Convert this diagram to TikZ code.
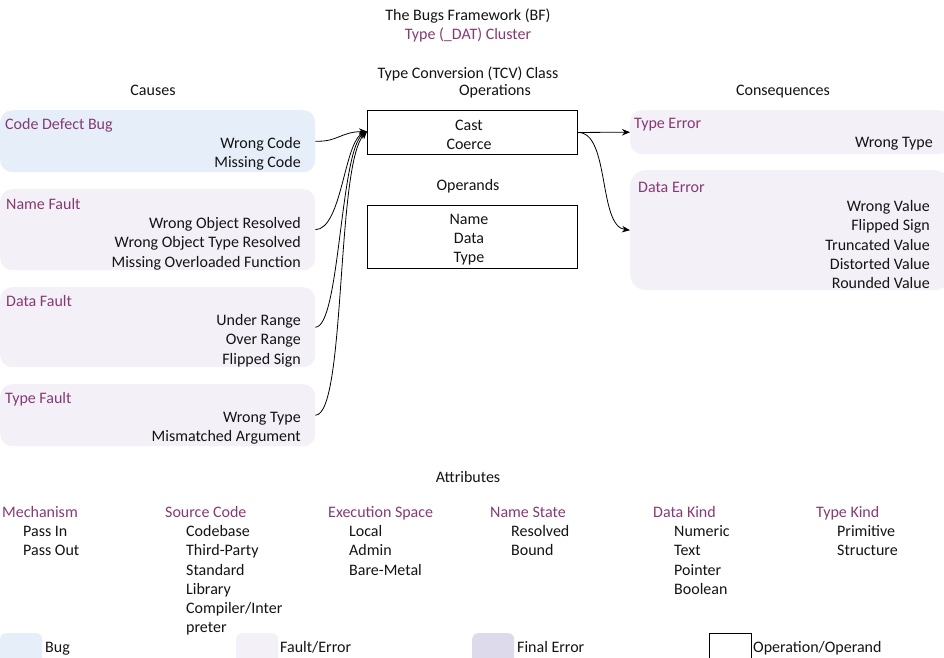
\documentclass[tikz,border=0pt]{standalone}
\usepackage{fontspec}
\setmainfont{Carlito}
\usetikzlibrary{arrows.meta}
\definecolor{bugfill}{RGB}{230,238,250}
\definecolor{faultfill}{RGB}{243,240,247}
\definecolor{finalfill}{RGB}{221,218,235}
\definecolor{purp}{RGB}{134,58,116}
\definecolor{ink}{RGB}{20,20,20}
\begin{document}
\begin{tikzpicture}[x=1pt,y=-1pt,
  every node/.style={font=\fontsize{16}{19}\selectfont, inner sep=0pt, text=ink},
  bugbox/.style={fill=bugfill, rounded corners=12pt, anchor=north west},
  faultbox/.style={fill=faultfill, rounded corners=12pt, anchor=north west},
  finalbox/.style={fill=finalfill, rounded corners=6pt, anchor=north west},
  opbox/.style={draw=black, line width=0.9pt, anchor=north west},
  hd/.style={anchor=base west, text=purp},
  itm/.style={anchor=base east},
  ctr/.style={anchor=base},
  lft/.style={anchor=base west},
  conn/.style={draw=black, line width=0.8pt, -{Stealth[length=8pt,width=6.5pt]}}
]
\clip (0,0) rectangle (944,657);
\fill[white] (0,0) rectangle (944,657);

% titles
\node[ctr] (t1) at (468,20) {The Bugs Framework (BF)};
\node[ctr, text=purp] (t2) at (468,39) {Type (\_DAT) Cluster};
\node[ctr] (t3) at (468,78) {Type Conversion (TCV) Class};
\node[ctr] (t4) at (495,95) {Operations};
\node[ctr] (t5) at (153,95) {Causes};
\node[ctr] (t6) at (783,95) {Consequences};
\node[ctr] (t7) at (468,190) {Operands};
\node[ctr] (t8) at (468,482) {Attributes};

% cause boxes
\node[bugbox, minimum width=315pt, minimum height=62pt] (cdb) at (0,110) {};
\node[hd] (cdbh) at (5,129) {Code Defect Bug};
\node[itm] (cdb1) at (301,148) {Wrong Code};
\node[itm] (cdb2) at (301,167) {Missing Code};

\node[faultbox, minimum width=315pt, minimum height=81pt] (nf) at (0,189) {};
\node[hd] (nfh) at (6,209) {Name Fault};
\node[itm] (nf1) at (301,228) {Wrong Object Resolved};
\node[itm] (nf2) at (301,247) {Wrong Object Type Resolved};
\node[itm] (nf3) at (301,267) {Missing Overloaded Function};

\node[faultbox, minimum width=315pt, minimum height=80pt] (df) at (0,287) {};
\node[hd] (dfh) at (6,306) {Data Fault};
\node[itm] (df1) at (301,325) {Under Range};
\node[itm] (df2) at (301,344) {Over Range};
\node[itm] (df3) at (301,364) {Flipped Sign};

\node[faultbox, minimum width=315pt, minimum height=62pt] (tf) at (0,384) {};
\node[hd] (tfh) at (5,403) {Type Fault};
\node[itm] (tf1) at (301,422) {Wrong Type};
\node[itm] (tf2) at (301,441) {Mismatched Argument};

% operations / operands
\node[opbox, minimum width=210pt, minimum height=44pt] (ops) at (367,110) {};
\node[ctr] (ops1) at (469,130) {Cast};
\node[ctr] (ops2) at (469,149) {Coerce};

\node[opbox, minimum width=210pt, minimum height=63pt] (opd) at (367,205) {};
\node[ctr] (opd1) at (469,224) {Name};
\node[ctr] (opd2) at (469,243) {Data};
\node[ctr] (opd3) at (469,262) {Type};

% consequences
\node[faultbox, minimum width=320pt, minimum height=44pt] (te) at (630,110) {};
\node[hd] (teh) at (634,128) {Type Error};
\node[itm] (te1) at (933,147) {Wrong Type};

\node[faultbox, rounded corners=16pt, minimum width=320pt, minimum height=120pt] (de) at (630,170) {};
\node[hd] (deh) at (638,192) {Data Error};
\node[itm] (de1) at (930,211) {Wrong Value};
\node[itm] (de2) at (930,230) {Flipped Sign};
\node[itm] (de3) at (930,250) {Truncated Value};
\node[itm] (de4) at (930,269) {Distorted Value};
\node[itm] (de5) at (930,288) {Rounded Value};

% connectors
\coordinate (opin) at ([yshift=1pt]ops.west);
\draw[conn] (cdb.east) .. controls (338,142) and (340,132) .. (opin);
\draw[conn] (nf.east) .. controls (342,229) and (344,142) .. (opin);
\draw[conn] (df.east) .. controls (340,327) and (340,150) .. (opin);
\draw[conn] (tf.east) .. controls (346,415) and (336,165) .. (opin);
\draw[conn] (ops.east) -- (te.west);
\draw[conn] (ops.east) .. controls (610,132) and (598,226) .. (de.west);

% attributes
\node[hd] (a1) at (2,517) {Mechanism};
\node[lft] (a11) at (23,536) {Pass In};
\node[lft] (a12) at (23,555) {Pass Out};

\node[hd] (a2) at (165,517) {Source Code};
\node[lft] (a21) at (186,536) {Codebase};
\node[lft] (a22) at (186,555) {Third-Party};
\node[lft] (a23) at (186,575) {Standard};
\node[lft] (a24) at (186,594) {Library};
\node[lft] (a25) at (186,613) {Compiler/Inter};
\node[lft] (a26) at (186,632) {preter};

\node[hd] (a3) at (328,517) {Execution Space};
\node[lft] (a31) at (349,536) {Local};
\node[lft] (a32) at (349,555) {Admin};
\node[lft] (a33) at (349,575) {Bare-Metal};

\node[hd] (a4) at (490,517) {Name State};
\node[lft] (a41) at (511,536) {Resolved};
\node[lft] (a42) at (511,555) {Bound};

\node[hd] (a5) at (653,517) {Data Kind};
\node[lft] (a51) at (674,536) {Numeric};
\node[lft] (a52) at (674,555) {Text};
\node[lft] (a53) at (674,575) {Pointer};
\node[lft] (a54) at (674,594) {Boolean};

\node[hd] (a6) at (816,517) {Type Kind};
\node[lft] (a61) at (837,536) {Primitive};
\node[lft] (a62) at (837,555) {Structure};

% legend
\node[bugbox, rounded corners=6pt, minimum width=42pt, minimum height=34pt] (lg1) at (0,633) {};
\node[lft] (lg1t) at (45,652) {Bug};
\node[faultbox, rounded corners=6pt, minimum width=42pt, minimum height=34pt] (lg2) at (236,633) {};
\node[lft] (lg2t) at (280,652) {Fault/Error};
\node[finalbox, minimum width=42pt, minimum height=34pt] (lg3) at (472,633) {};
\node[lft] (lg3t) at (517,652) {Final Error};
\node[opbox, line width=0.7pt, minimum width=42pt, minimum height=34pt] (lg4) at (709,633) {};
\node[lft] (lg4t) at (753,652) {Operation/Operand};
\end{tikzpicture}
\end{document}
